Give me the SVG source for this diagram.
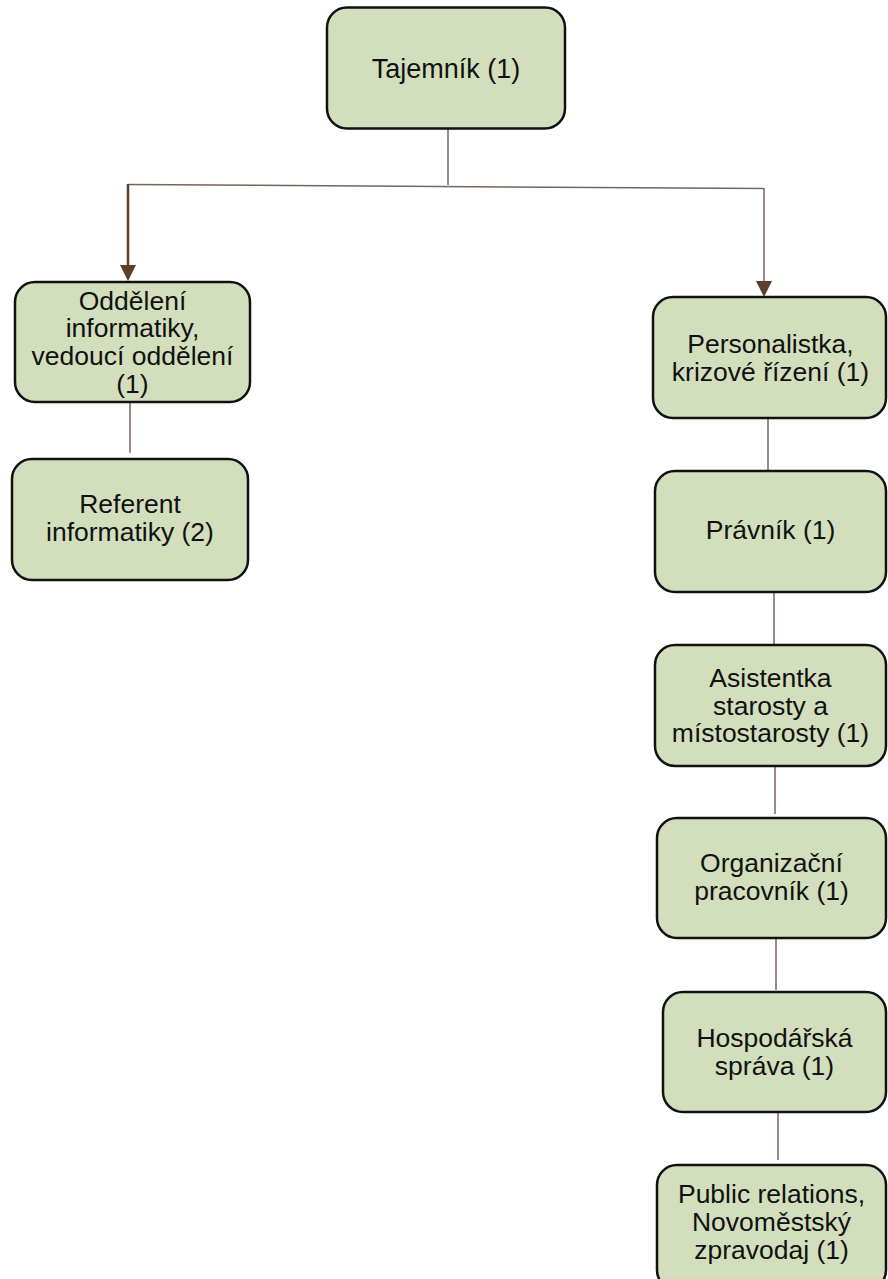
<svg xmlns="http://www.w3.org/2000/svg" width="888" height="1279" viewBox="0 0 888 1279">
<style>
.box{fill:#d3dfbc;stroke:#111;stroke-width:2.5}
.t{font-family:"Liberation Sans",Arial,sans-serif;font-size:26.5px;fill:#111;text-anchor:middle}
.c{fill:none;stroke:#7a6357;stroke-width:1.5}
.ca{fill:none;stroke:#5a3f2c;stroke-width:2.5}
.ah{fill:#5a3f2c}
</style>
<rect width="888" height="1279" fill="#fff"/>
<g id="connectors">
<line class="c" x1="448" y1="128" x2="448" y2="185"/>
<line class="c" x1="128" y1="184.5" x2="764" y2="188.5"/>
<line class="ca" x1="128" y1="184" x2="128" y2="266"/>
<path class="ah" d="M120,265 L136,265 L128,281 Z"/>
<line class="c" x1="764" y1="188" x2="764" y2="282"/>
<path class="ah" d="M756,281 L772,281 L764,297 Z"/>
<line class="c" x1="130" y1="402" x2="130" y2="453"/>
<line class="c" x1="768" y1="418" x2="768" y2="470"/>
<line class="c" x1="774" y1="592" x2="774" y2="644"/>
<line class="c" x1="775" y1="766" x2="775" y2="814"/>
<line class="c" x1="776" y1="938" x2="776" y2="990"/>
<line class="c" x1="778" y1="1112" x2="778" y2="1160"/>
</g>
<g id="n-tajemnik">
<rect class="box" x="327" y="7.5" width="238" height="121" rx="20"/>
<text class="t" x="446" y="78" style="font-size:27px">Tajemník (1)</text>
</g>
<g id="n-oddeleni">
<rect class="box" x="15" y="282" width="235" height="120" rx="20"/>
<text class="t" x="132.5" y="309.5">Oddělení</text>
<text class="t" x="132.5" y="337">informatiky,</text>
<text class="t" x="132.5" y="365">vedoucí oddělení</text>
<text class="t" x="132.5" y="393">(1)</text>
</g>
<g id="n-referent">
<rect class="box" x="12" y="459" width="236" height="121" rx="20"/>
<text class="t" x="130" y="513">Referent</text>
<text class="t" x="130" y="541">informatiky (2)</text>
</g>
<g id="n-personalistka">
<rect class="box" x="653" y="297" width="233" height="121" rx="20"/>
<text class="t" x="770.5" y="353">Personalistka,</text>
<text class="t" x="770.5" y="380.5">krizové řízení (1)</text>
</g>
<g id="n-pravnik">
<rect class="box" x="655" y="471" width="231" height="121" rx="20"/>
<text class="t" x="770.5" y="539">Právník (1)</text>
</g>
<g id="n-asistentka">
<rect class="box" x="655" y="645" width="231" height="121" rx="20"/>
<text class="t" x="770.5" y="687">Asistentka</text>
<text class="t" x="770.5" y="714.5">starosty a</text>
<text class="t" x="770.5" y="742">místostarosty (1)</text>
</g>
<g id="n-organizacni">
<rect class="box" x="657" y="818" width="229" height="120" rx="20"/>
<text class="t" x="771.5" y="871.5">Organizační</text>
<text class="t" x="771.5" y="899.5">pracovník (1)</text>
</g>
<g id="n-hospodarska">
<rect class="box" x="663" y="992" width="223" height="120" rx="20"/>
<text class="t" x="774.5" y="1046.5">Hospodářská</text>
<text class="t" x="774.5" y="1074.5">správa (1)</text>
</g>
<g id="n-public">
<rect class="box" x="657" y="1165" width="229" height="125" rx="20"/>
<text class="t" x="771.5" y="1203">Public relations,</text>
<text class="t" x="771.5" y="1230.5">Novoměstský</text>
<text class="t" x="771.5" y="1258.5">zpravodaj (1)</text>
</g>
</svg>
